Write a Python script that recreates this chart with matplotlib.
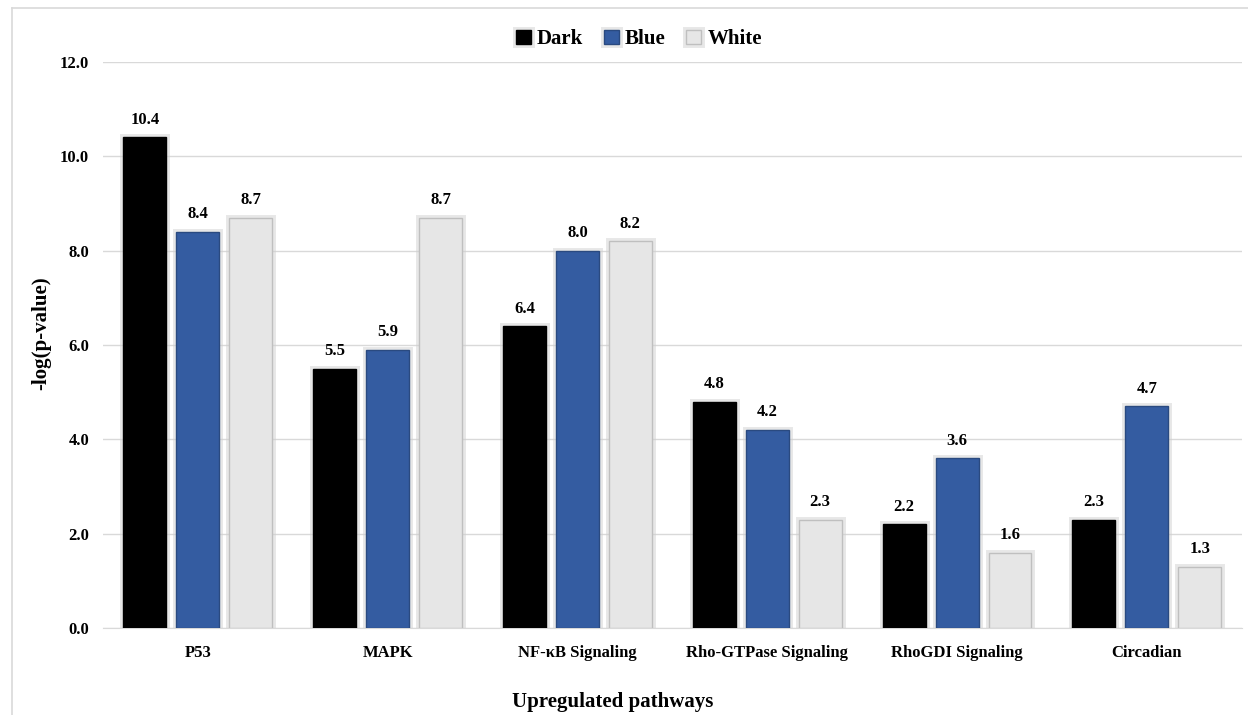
import numpy as np
import matplotlib.pyplot as plt
import matplotlib.patheffects as pe
from matplotlib.lines import Line2D

plt.rcParams['font.family'] = ['Liberation Serif', 'DejaVu Serif']
plt.rcParams['font.weight'] = 'bold'

# Data
pathways = ["P53", "MAPK", "NF-\u03baB Signaling", "Rho-GTPase Signaling",
            "RhoGDI Signaling", "Circadian"]
dark = [10.4, 5.5, 6.4, 4.8, 2.2, 2.3]
blue = [8.4, 5.9, 8.0, 4.2, 3.6, 4.7]
white = [8.7, 8.7, 8.2, 2.3, 1.6, 1.3]

series = [("Dark", dark, "#000000", "#000000"),
          ("Blue", blue, "#345CA1", "#2a4a80"),
          ("White", white, "#E6E6E6", "#BFBFBF")]

fig = plt.figure(figsize=(12.48, 7.15), dpi=100)
ax = fig.add_axes([0.0825, 0.1217, 0.9125, 0.7916])

x = np.arange(len(pathways))
width = 0.226
step = 0.279
glow = [pe.Stroke(linewidth=5, foreground="#d0d0d0", alpha=0.5), pe.Normal()]

for i, (name, vals, fc, ec) in enumerate(series):
    pos = x + (i - 1) * step
    bars = ax.bar(pos, vals, width, color=fc, edgecolor=ec, linewidth=1,
                  label=name, zorder=3)
    for b in bars:
        b.set_path_effects(glow)
    for px, v in zip(pos, vals):
        ax.text(px, v + 0.2, f"{v:.1f}", ha="center", va="bottom",
                fontsize=12, fontweight="bold", zorder=4)

ax.set_xlim(-0.5, len(pathways) - 0.5)
ax.set_ylim(0, 12)
ax.set_yticks(np.arange(0, 12.1, 2))
ax.set_yticklabels([f"{t:.1f}" for t in np.arange(0, 12.1, 2)])
ax.set_xticks(x)
ax.set_xticklabels(pathways)
ax.tick_params(axis="both", length=0, labelsize=12)
ax.tick_params(axis="x", pad=12)
ax.tick_params(axis="y", pad=10)
ax.yaxis.grid(True, color="#D9D9D9", linewidth=1, zorder=0)
ax.set_axisbelow(True)
for s in ["top", "right", "left"]:
    ax.spines[s].set_visible(False)
ax.spines["bottom"].set_color("#D9D9D9")

ax.set_xlabel("Upregulated pathways", fontsize=15, fontweight="bold")
ax.xaxis.set_label_coords(0.448, -0.113)
ax.set_ylabel("-log(p-value)", fontsize=15, fontweight="bold")
ax.yaxis.set_label_coords(-0.045, 0.52)

fig.legend(loc="upper center", bbox_to_anchor=(0.512, 0.985), ncol=3, frameon=False,
           fontsize=15, handlelength=0.7, handleheight=0.7, handletextpad=0.3,
           columnspacing=1.0)

# outer chart frame (top and left edges visible)
fig.add_artist(Line2D([12 / 1248, 12 / 1248], [0, 1 - 8 / 715], transform=fig.transFigure,
                      color="#D9D9D9", linewidth=1.2))
fig.add_artist(Line2D([12 / 1248, 1], [1 - 8 / 715, 1 - 8 / 715], transform=fig.transFigure,
                      color="#D9D9D9", linewidth=1.2))

fig.savefig("out.png", dpi=100)
